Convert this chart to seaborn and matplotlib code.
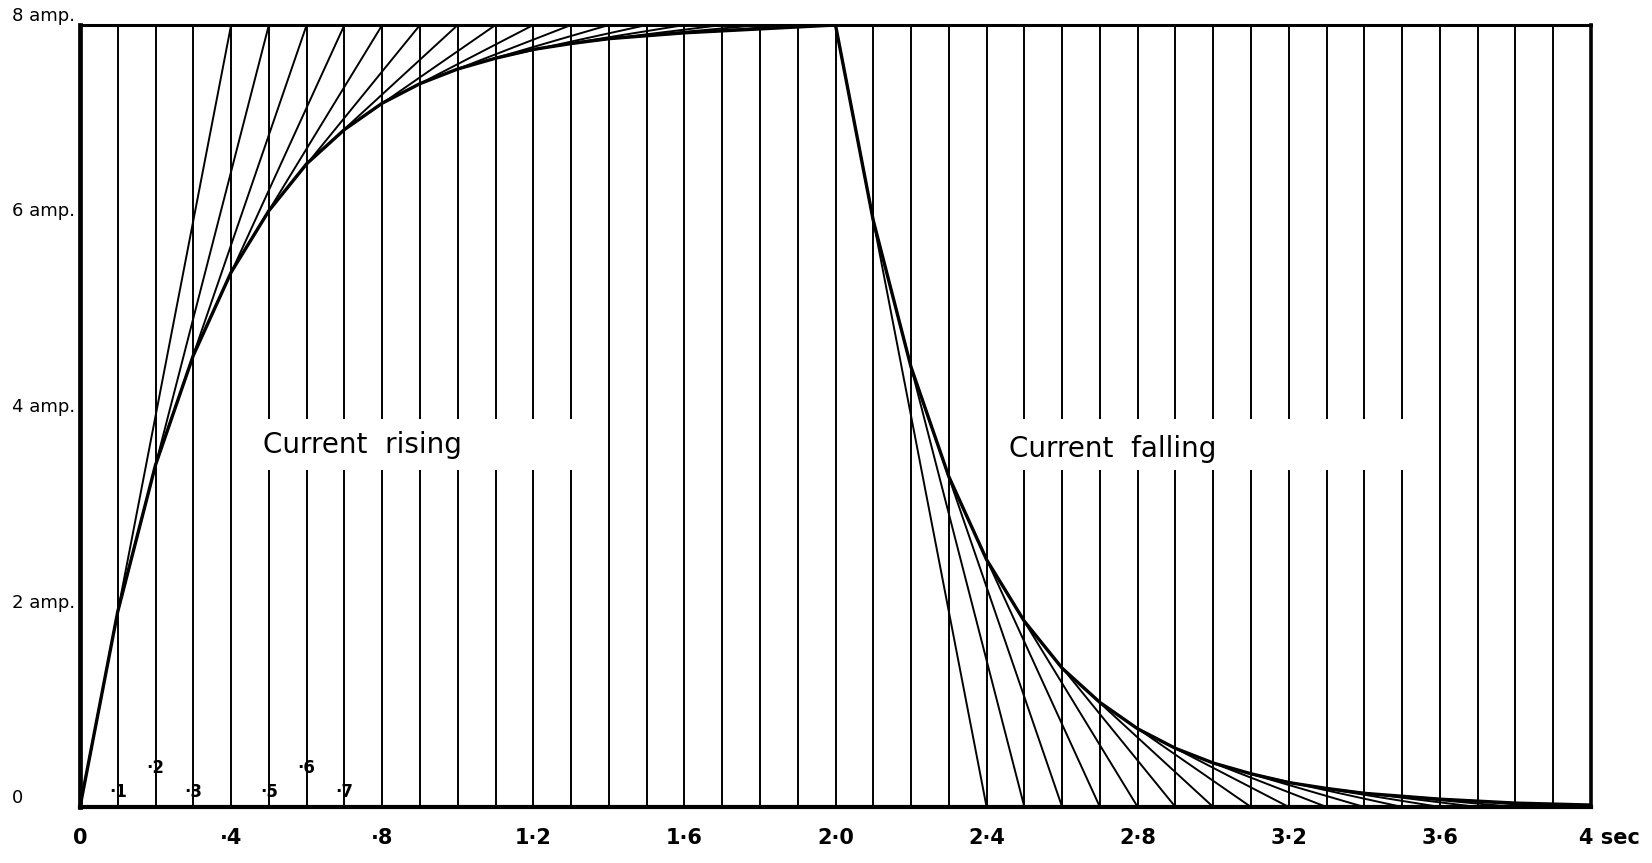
import matplotlib
matplotlib.use("Agg")
import matplotlib.pyplot as plt
import matplotlib.transforms as mtransforms
from matplotlib.patches import Rectangle
from matplotlib.collections import LineCollection
from matplotlib.ticker import MultipleLocator
import numpy as np
import pandas as pd
import seaborn as sns

# ---------------- data ----------------
rise_t = [0.0, 0.1, 0.2, 0.3, 0.4, 0.5, 0.6, 0.7, 0.8, 0.9, 1.0,
          1.1, 1.2, 1.3, 1.4, 1.5, 1.6, 1.7, 1.8, 1.9, 2.0]
rise_i = [0.0, 2.0, 3.5, 4.62, 5.47, 6.1, 6.58, 6.93, 7.2, 7.4, 7.55,
          7.66, 7.75, 7.81, 7.86, 7.89, 7.92, 7.94, 7.96, 7.98, 8.0]
fall_t = [2.0, 2.1, 2.2, 2.3, 2.4, 2.5, 2.6, 2.7, 2.8, 2.9, 3.0,
          3.1, 3.2, 3.3, 3.4, 3.5, 3.6, 3.7, 3.8, 3.9, 4.0]
fall_i = [8.0, 6.0, 4.5, 3.38, 2.53, 1.9, 1.42, 1.07, 0.8, 0.6, 0.45,
          0.34, 0.25, 0.19, 0.14, 0.11, 0.08, 0.06, 0.04, 0.03, 0.02]
final_current = 8.0      # amp
time_constant = 0.4      # sec (tangents reach the asymptote after this time)

xtick_vals = [0, 0.4, 0.8, 1.2, 1.6, 2.0, 2.4, 2.8, 3.2, 3.6, 4.0]
xtick_labels = ["0", "·4", "·8", "1·2", "1·6", "2·0", "2·4", "2·8", "3·2", "3·6", "4 sec"]
ytick_vals = [0, 2, 4, 6, 8]
ytick_labels = ["0", "2 amp.", "4 amp.", "6 amp.", "8 amp."]

step_t = [0.1, 0.2, 0.3, 0.5, 0.6, 0.7]
step_text = ["·1", "·2", "·3", "·5", "·6", "·7"]
step_raised = [False, True, False, False, True, False]

# ---------------- figure ----------------
sns.set_theme(style="white")
plt.rcParams["font.family"] = ["DejaVu Sans"]
plt.rcParams["text.color"] = "black"
plt.rcParams["xtick.color"] = "black"
plt.rcParams["ytick.color"] = "black"

W, H = 1652, 863
fig = plt.figure(figsize=(W / 100, H / 100), dpi=100)
ax = fig.add_axes([80 / W, 1 - 807 / H, (1591 - 80) / W, (807 - 25) / H])
ax.set_xlim(0, 4)
ax.set_ylim(0, 8)

# vertical ruling every 0.1 s
ax.xaxis.set_minor_locator(MultipleLocator(0.1))
ax.set_axisbelow(True)
ax.grid(which="both", axis="x", color="black", lw=1.4)
ax.grid(which="both", axis="y", visible=False)

# white label panels interrupting the ruling
for x0, x1 in [(0.45, 1.35), (2.45, 3.55)]:
    ax.add_patch(Rectangle((x0, 3.45), x1 - x0, 0.52, facecolor="white",
                           edgecolor="none", zorder=1))

# tangent construction lines
segs = []
for t, i in zip(rise_t, rise_i):
    if t + time_constant <= rise_t[-1] + 1e-9:
        segs.append([(t, i), (t + time_constant, final_current)])
for t, i in zip(fall_t, fall_i):
    if t + time_constant <= fall_t[-1] + 1e-9:
        segs.append([(t, i), (t + time_constant, 0.0)])
ax.add_collection(LineCollection(segs, colors="black", linewidths=1.4, zorder=2))

# the current curve
df = pd.DataFrame({"t": rise_t + fall_t, "i": rise_i + fall_i})
sns.lineplot(data=df, x="t", y="i", sort=False, color="black", lw=2.4,
             ax=ax, zorder=3, estimator=None)

# labels inside
ax.text(0.484, 3.62, "Current  rising", fontsize=20, va="baseline", ha="left",
        color="black", zorder=4)
ax.text(2.46, 3.58, "Current  falling", fontsize=20, va="baseline", ha="left",
        color="black", zorder=4)
for t, s, r in zip(step_t, step_text, step_raised):
    ax.text(t, 0.4 if r else 0.15, s, fontsize=12, fontweight="bold",
            ha="center", va="center", color="black", zorder=4)

# axes styling
for side, lw in [("left", 3.4), ("bottom", 3.0), ("top", 2.2), ("right", 2.6)]:
    ax.spines[side].set_visible(True)
    ax.spines[side].set_color("black")
    ax.spines[side].set_linewidth(lw)

ax.set_xticks(xtick_vals, xtick_labels)
ax.set_yticks(ytick_vals, ytick_labels)
ax.set_xlabel("")
ax.set_ylabel("")
ax.tick_params(axis="x", which="both", length=0, pad=15, labelsize=15,
               labelcolor="black")
ax.tick_params(axis="y", which="both", length=0, pad=49, labelsize=13,
               labelcolor="black")
for lbl in ax.get_xticklabels():
    lbl.set_fontweight("bold")
for lbl in ax.get_yticklabels():
    lbl.set_ha("left")
    lbl.set_va("bottom")
last = ax.get_xticklabels()[-1]
last.set_ha("left")
last.set_transform(last.get_transform() +
                   mtransforms.ScaledTranslation(-12 / 100, 0, fig.dpi_scale_trans))

fig.savefig("out.png", dpi=100, facecolor="white")
